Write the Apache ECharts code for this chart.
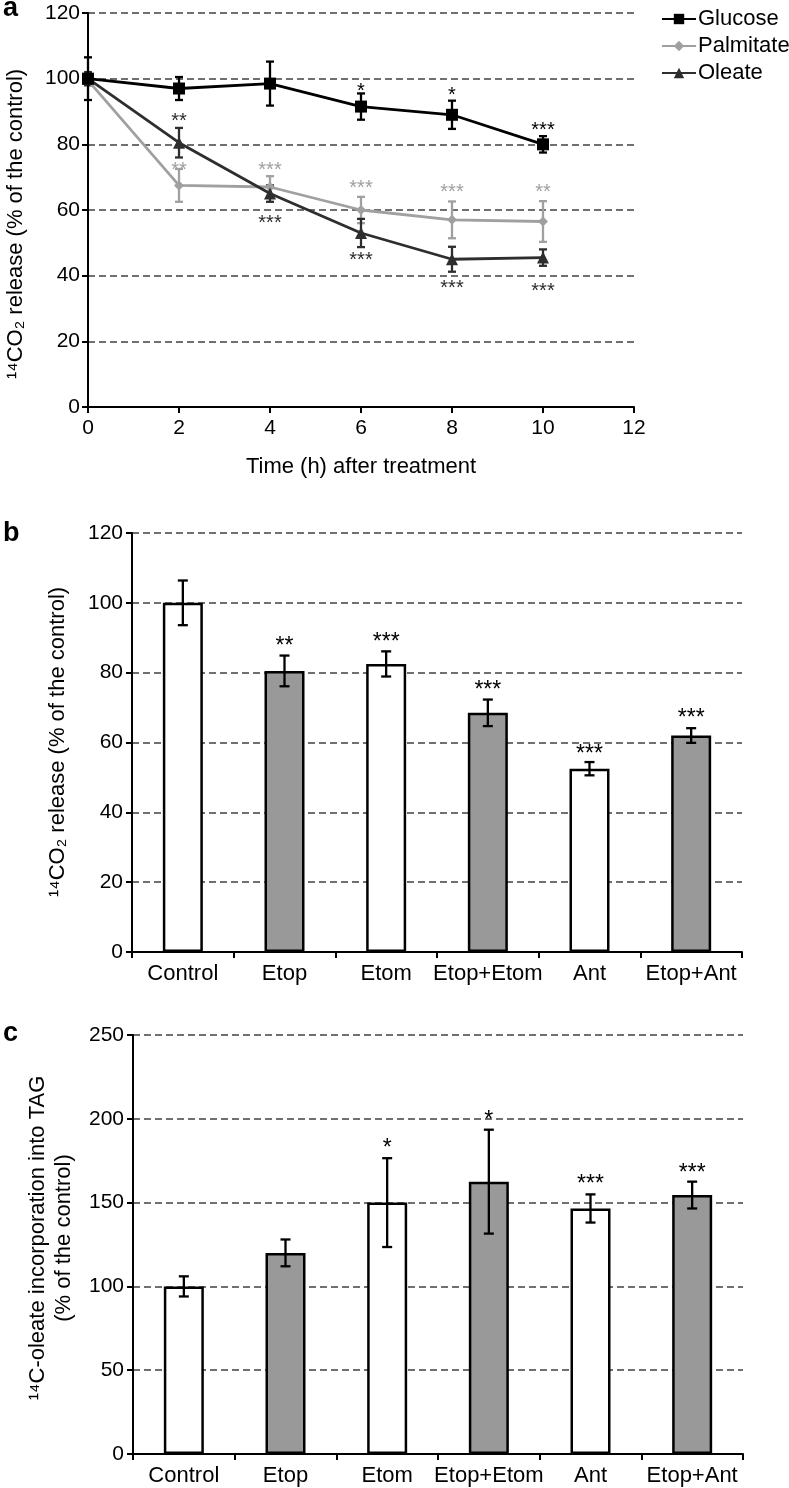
<!DOCTYPE html>
<html>
<head>
<meta charset="utf-8">
<script src="https://cdn.jsdelivr.net/npm/echarts@6/dist/echarts.min.js"></script>
<style>
html,body{margin:0;padding:0;background:#fff;}
#chart{width:789px;height:1488px;}
</style>
</head>
<body>
<div id="chart"></div>
<script>
// ---------- Panel a data ----------
const aTimes = [0, 2, 4, 6, 8, 10];
const glucose = [100, 97, 98.5, 91.5, 89, 80];
const glucoseErr = [6.5, 3.5, 6.7, 4, 4.3, 2.5];
const palmitate = [99.5, 67.5, 67, 60, 57, 56.5];
const palmitateErr = [1.5, 5, 3.3, 4, 5.6, 6.2];
const oleate = [100, 80.5, 65, 53, 45, 45.5];
const oleateErr = [2, 4.5, 2.5, 4.3, 3.8, 2.5];
const aXTicks = [0, 2, 4, 6, 8, 10, 12];
const aYTicks = [0, 20, 40, 60, 80, 100, 120];
// star labels (text) and their vertical position (value units)
const glucoseStars = ['', '', '', '*', '*', '***'];
const glucoseStarY = [null, null, null, 97.8, 96.6, 85.9];
const palmitateStars = ['', '**', '***', '***', '***', '**'];
const palmitateStarY = [null, 73.7, 73.7, 68.2, 67, 67];
const oleateStars = ['', '**', '***', '***', '***', '***'];
const oleateStarY = [null, 88.6, 57.5, 46.3, 37.8, 36.9];

// ---------- Panel b data ----------
const bCats = ['Control', 'Etop', 'Etom', 'Etop+Etom', 'Ant', 'Etop+Ant'];
const bValues = [100, 80.5, 82.5, 68.5, 52.5, 62];
const bErr = [6.4, 4.4, 3.6, 3.8, 1.9, 2.1];
const bStars = ['', '**', '***', '***', '***', '***'];
const bStarY = [null, 89.4, 90.3, 76.7, 58.5, 68.6];

// ---------- Panel c data ----------
const cCats = ['Control', 'Etop', 'Etom', 'Etop+Etom', 'Ant', 'Etop+Ant'];
const cValues = [100, 120, 150, 162.5, 146.5, 154.5];
const cErr = [6, 8, 26.5, 31, 8.4, 8];
const cStars = ['', '', '*', '*', '***', '***'];
const cStarY = [null, null, 186, 203, 164.4, 171.4];

const barFill = ['#ffffff', '#999999', '#ffffff', '#999999', '#ffffff', '#999999'];

const FONT = 'Liberation Sans, Arial, Helvetica, sans-serif';
const COL_G = '#000000', COL_P = '#a0a0a0', COL_O = '#2e2e2e';
const TXT = '#000';

function errSeries(xi, yi, xs, vals, errs, color, half, z) {
  const data = vals.map((v, i) => [xs[i], v - errs[i], v + errs[i]]);
  return {
    type: 'custom', xAxisIndex: xi, yAxisIndex: yi, z: z || 5, silent: true,
    data: data,
    renderItem: function (params, api) {
      const x = api.value(0);
      const lo = api.coord([x, api.value(1)]);
      const hi = api.coord([x, api.value(2)]);
      const st = { stroke: color, lineWidth: 2.3 };
      return {
        type: 'group', children: [
          { type: 'line', shape: { x1: lo[0], y1: lo[1], x2: hi[0], y2: hi[1] }, style: st },
          { type: 'line', shape: { x1: lo[0] - half, y1: lo[1], x2: lo[0] + half, y2: lo[1] }, style: st },
          { type: 'line', shape: { x1: hi[0] - half, y1: hi[1], x2: hi[0] + half, y2: hi[1] }, style: st }
        ]
      };
    }
  };
}

function starSeries(xi, yi, xs, texts, ys, color, size) {
  const items = [];
  texts.forEach((t, i) => { if (t) items.push({ x: xs[i], y: ys[i], t: t }); });
  return {
    type: 'custom', xAxisIndex: xi, yAxisIndex: yi, z: 6, silent: true,
    data: items.map(o => [o.x, o.y]),
    renderItem: function (params, api) {
      const p = api.coord([api.value(0), api.value(1)]);
      const it = items[params.dataIndex];
      return {
        type: 'text',
        style: {
          text: it.t, x: p[0], y: p[1] + size * 0.28,
          fill: color, font: size + 'px ' + FONT,
          align: 'center', verticalAlign: 'middle',
          textAlign: 'center', textVerticalAlign: 'middle'
        }
      };
    }
  };
}

const axisLineStyle = { show: true, lineStyle: { color: '#000', width: 2 } };
const tickStyle = { show: true, length: 6, lineStyle: { color: '#000', width: 2 } };
const gridLine = { show: true, lineStyle: { color: '#707070', width: 2, type: [7, 4] } };

const option = {
  animation: false,
  backgroundColor: '#ffffff',
  textStyle: { fontFamily: FONT },
  grid: [
    { left: 88, top: 13, width: 546, height: 394 },
    { left: 132, top: 533, width: 610, height: 419 },
    { left: 133, top: 1035, width: 610, height: 419 }
  ],
  legend: {
    data: ['Glucose', 'Palmitate', 'Oleate'],
    orient: 'vertical', left: 656, top: 3,
    itemWidth: 34, itemHeight: 13, itemGap: 5,
    textStyle: { fontSize: 22, color: TXT, fontFamily: FONT, padding: [0, 0, 0, -3] }
  },
  xAxis: [
    {
      gridIndex: 0, type: 'value', min: aXTicks[0], max: aXTicks[aXTicks.length - 1], interval: 2,
      axisLine: axisLineStyle, axisTick: tickStyle,
      axisLabel: { fontSize: 21, color: TXT, margin: 11 },
      splitLine: { show: false }
    },
    {
      gridIndex: 1, type: 'category', data: bCats, boundaryGap: true,
      axisLine: axisLineStyle, axisTick: Object.assign({ alignWithLabel: false, interval: 0 }, tickStyle),
      axisLabel: { fontSize: 22, color: TXT, margin: 11, interval: 0 },
      splitLine: { show: false }
    },
    {
      gridIndex: 2, type: 'category', data: cCats, boundaryGap: true,
      axisLine: axisLineStyle, axisTick: Object.assign({ alignWithLabel: false, interval: 0 }, tickStyle),
      axisLabel: { fontSize: 22, color: TXT, margin: 11, interval: 0 },
      splitLine: { show: false }
    }
  ],
  yAxis: [
    {
      gridIndex: 0, type: 'value', min: aYTicks[0], max: aYTicks[aYTicks.length - 1], interval: 20,
      axisLine: axisLineStyle, axisTick: tickStyle,
      axisLabel: { fontSize: 21, color: TXT, margin: 8 },
      splitLine: gridLine
    },
    {
      gridIndex: 1, type: 'value', min: 0, max: 120, interval: 20,
      axisLine: axisLineStyle, axisTick: tickStyle,
      axisLabel: { fontSize: 21, color: TXT, margin: 9 },
      splitLine: gridLine
    },
    {
      gridIndex: 2, type: 'value', min: 0, max: 250, interval: 50,
      axisLine: axisLineStyle, axisTick: tickStyle,
      axisLabel: { fontSize: 21, color: TXT, margin: 9 },
      splitLine: gridLine
    }
  ],
  graphic: [
    { type: 'text', x: 3, y: 9, style: { text: 'a', font: 'bold 27px ' + FONT, fill: '#000', verticalAlign: 'middle', textVerticalAlign: 'middle' } },
    { type: 'text', x: 3, y: 534, style: { text: 'b', font: 'bold 27px ' + FONT, fill: '#000', verticalAlign: 'middle', textVerticalAlign: 'middle' } },
    { type: 'text', x: 3, y: 1034, style: { text: 'c', font: 'bold 27px ' + FONT, fill: '#000', verticalAlign: 'middle', textVerticalAlign: 'middle' } },
    { type: 'text', x: 361, y: 467, style: { text: 'Time (h) after treatment', font: '22px ' + FONT, fill: TXT, align: 'center', verticalAlign: 'middle', textAlign: 'center', textVerticalAlign: 'middle' } },
    { type: 'text', x: 16, y: 224, rotation: Math.PI / 2, style: { text: '\u00B9\u2074CO\u2082 release (% of the control)', font: '22px ' + FONT, fill: TXT, align: 'center', verticalAlign: 'middle', textAlign: 'center', textVerticalAlign: 'middle' } },
    { type: 'text', x: 58, y: 742, rotation: Math.PI / 2, style: { text: '\u00B9\u2074CO\u2082 release (% of the control)', font: '22px ' + FONT, fill: TXT, align: 'center', verticalAlign: 'middle', textAlign: 'center', textVerticalAlign: 'middle' } },
    { type: 'text', x: 38, y: 1238, rotation: Math.PI / 2, style: { text: '\u00B9\u2074C-oleate incorporation into TAG', font: '22px ' + FONT, fill: TXT, align: 'center', verticalAlign: 'middle', textAlign: 'center', textVerticalAlign: 'middle' } },
    { type: 'text', x: 64, y: 1238, rotation: Math.PI / 2, style: { text: '(% of the control)', font: '22px ' + FONT, fill: TXT, align: 'center', verticalAlign: 'middle', textAlign: 'center', textVerticalAlign: 'middle' } }
  ],
  series: [
    errSeries(0, 0, aTimes, palmitate, palmitateErr, COL_P, 4, 3),
    errSeries(0, 0, aTimes, oleate, oleateErr, COL_O, 4, 3),
    errSeries(0, 0, aTimes, glucose, glucoseErr, COL_G, 4, 3),
    {
      name: 'Palmitate', type: 'line', xAxisIndex: 0, yAxisIndex: 0, z: 4,
      data: aTimes.map((t, i) => [t, palmitate[i]]),
      symbol: 'diamond', symbolSize: 10,
      lineStyle: { color: COL_P, width: 2.8 }, itemStyle: { color: COL_P }
    },
    {
      name: 'Oleate', type: 'line', xAxisIndex: 0, yAxisIndex: 0, z: 4,
      data: aTimes.map((t, i) => [t, oleate[i]]),
      symbol: 'triangle', symbolSize: 12,
      lineStyle: { color: COL_O, width: 2.8 }, itemStyle: { color: COL_O }
    },
    {
      name: 'Glucose', type: 'line', xAxisIndex: 0, yAxisIndex: 0, z: 4,
      data: aTimes.map((t, i) => [t, glucose[i]]),
      symbol: 'rect', symbolSize: 12,
      lineStyle: { color: COL_G, width: 2.8 }, itemStyle: { color: COL_G }
    },
    starSeries(0, 0, aTimes, glucoseStars, glucoseStarY, COL_G, 20),
    starSeries(0, 0, aTimes, palmitateStars, palmitateStarY, COL_P, 20),
    starSeries(0, 0, aTimes, oleateStars, oleateStarY, COL_O, 20),
    {
      type: 'bar', xAxisIndex: 1, yAxisIndex: 1, barWidth: 40, z: 3,
      data: bValues.map((v, i) => ({ value: v, itemStyle: { color: barFill[i] } })),
      itemStyle: { borderColor: '#000', borderWidth: 2.5 }
    },
    errSeries(1, 1, bCats.map((c, i) => i), bValues, bErr, '#000', 5, 5),
    starSeries(1, 1, bCats.map((c, i) => i), bStars, bStarY, '#000', 23),
    {
      type: 'bar', xAxisIndex: 2, yAxisIndex: 2, barWidth: 40, z: 3,
      data: cValues.map((v, i) => ({ value: v, itemStyle: { color: barFill[i] } })),
      itemStyle: { borderColor: '#000', borderWidth: 2.5 }
    },
    errSeries(2, 2, cCats.map((c, i) => i), cValues, cErr, '#000', 5, 5),
    starSeries(2, 2, cCats.map((c, i) => i), cStars, cStarY, '#000', 23)
  ]
};

const chart = echarts.init(document.getElementById('chart'), null, { renderer: 'canvas' });
chart.setOption(option);
</script>
</body>
</html>
